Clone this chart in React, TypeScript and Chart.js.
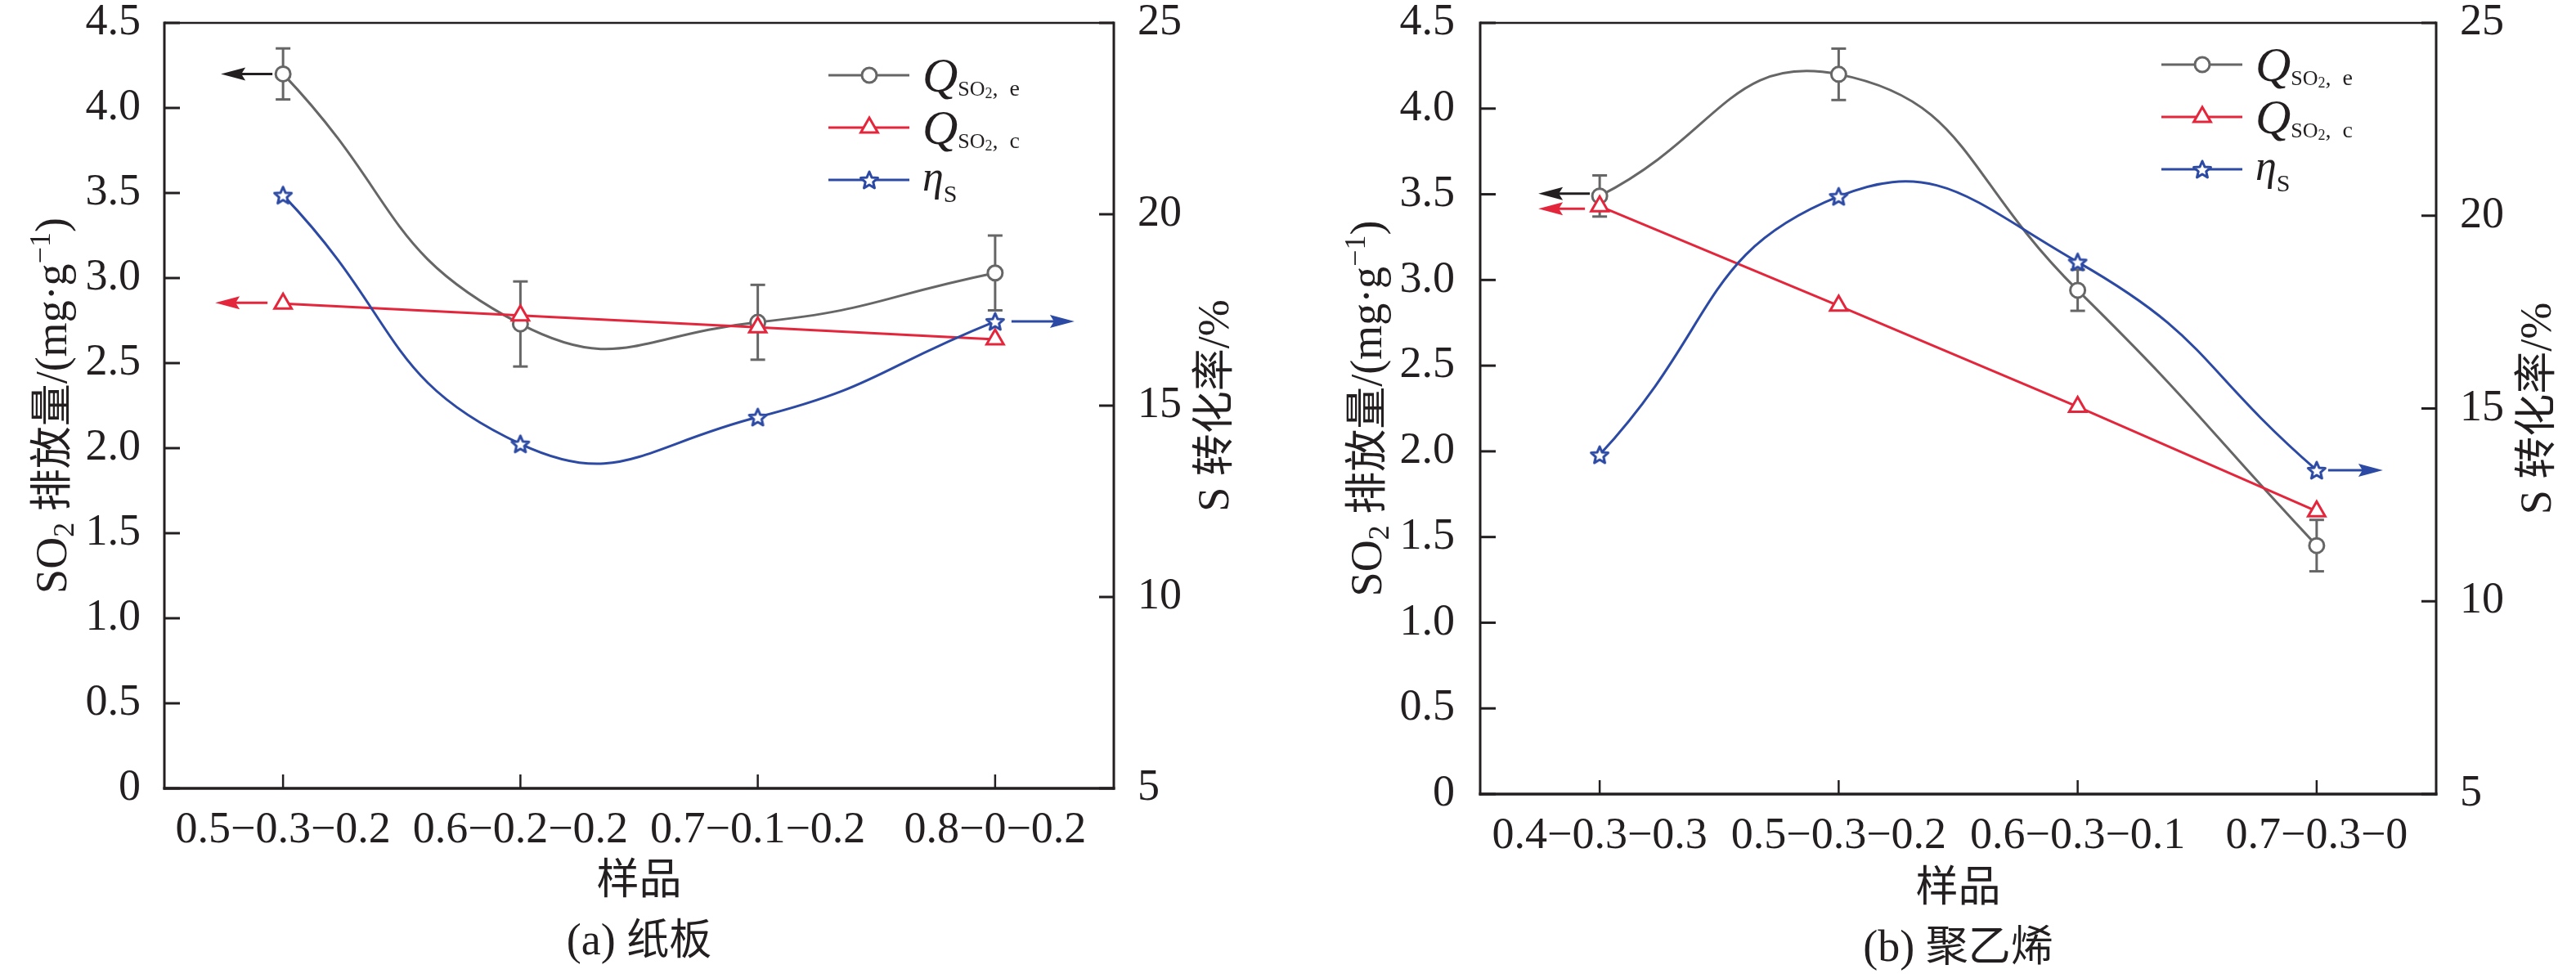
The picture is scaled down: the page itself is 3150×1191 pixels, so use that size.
import React, { useEffect, useRef } from 'react';
import { Chart, registerables } from 'chart.js';

Chart.register(...registerables);

const LATIN = '"Liberation Serif", "Times New Roman", "DejaVu Serif", serif';
const CJK = '"Noto Sans CJK SC", "Noto Sans CJK JP", sans-serif';
const TEXT = '#231f20';
const GRAY = '#666666';
const RED = '#e3263b';
const BLUE = '#2c4aa3';

// ---------- data ----------
const categoriesA = ['0.5−0.3−0.2', '0.6−0.2−0.2', '0.7−0.1−0.2', '0.8−0−0.2'];
const qeA = [4.2, 2.73, 2.74, 3.03];
const qeErrA = [0.15, 0.25, 0.22, 0.22];
const qcA = [2.85, 2.78, 2.71, 2.64];
const etaA = [20.5, 14.0, 14.7, 17.2];

const categoriesB = ['0.4−0.3−0.3', '0.5−0.3−0.2', '0.6−0.3−0.1', '0.7−0.3−0'];
const qeB = [3.49, 4.2, 2.94, 1.45];
const qeErrB = [0.12, 0.15, 0.12, 0.15];
const qcB = [3.43, 2.85, 2.26, 1.65];
const etaB = [13.8, 20.5, 18.8, 13.4];

const leftTicks = { min: 0, max: 4.5, step: 0.5 };
const rightTicks = { min: 5, max: 25, step: 5 };

const captionA = ['(a) ', '纸板'];
const captionB = ['(b) ', '聚乙烯'];

// ---------- layout ----------
const W = 1575;
const H = 1191;

type Arrow = { series: number; index: number; dir: number; tail: number; tip: number; dy: number; color: string };
type Panel = {
  categories: string[];
  qe: number[];
  qeErr: number[];
  qc: number[];
  eta: number[];
  caption: string[];
  left: number;
  right: number;
  top: number;
  bottom: number;
  leftTickPad: number;
  legendX: number;
  legendY: number;
  arrows: Arrow[];
  leftTitleX: number;
  rightTitleX: number;
  xTitleY: number;
  captionY: number;
};

const panelA: Panel = {
  categories: categoriesA,
  qe: qeA,
  qeErr: qeErrA,
  qc: qcA,
  eta: etaA,
  caption: captionA,
  left: 201,
  right: 1362,
  top: 28,
  bottom: 964,
  leftTickPad: 21,
  legendX: 1013,
  legendY: 92,
  arrows: [
    { series: 0, index: 0, dir: -1, tail: 13, tip: 76, dy: 0, color: TEXT },
    { series: 1, index: 0, dir: -1, tail: 19, tip: 83, dy: -1, color: RED },
    { series: 2, index: 3, dir: 1, tail: 20, tip: 97, dy: 0, color: BLUE },
  ],
  leftTitleX: 62,
  rightTitleX: 1483,
  xTitleY: 1073,
  captionY: 1148,
};

const panelB: Panel = {
  categories: categoriesB,
  qe: qeB,
  qeErr: qeErrB,
  qc: qcB,
  eta: etaB,
  caption: captionB,
  left: 235,
  right: 1404,
  top: 28,
  bottom: 971,
  leftTickPad: 23,
  legendX: 1068,
  legendY: 79,
  arrows: [
    { series: 0, index: 0, dir: -1, tail: 12, tip: 75, dy: -3, color: TEXT },
    { series: 1, index: 0, dir: -1, tail: 18, tip: 75, dy: 3, color: RED },
    { series: 2, index: 3, dir: 1, tail: 14, tip: 81, dy: 0, color: BLUE },
  ],
  leftTitleX: 95,
  rightTitleX: 1525,
  xTitleY: 1082,
  captionY: 1156,
};

const fL = (size: number, italic = false) => `${italic ? 'italic ' : ''}${size}px ${LATIN}`;
const fC = (size: number) => `${size}px ${CJK}`;

type Seg = { t: string; f: string; dy?: number };

function drawSegs(ctx: CanvasRenderingContext2D, segs: Seg[], x: number, y: number, align: 'center' | 'left') {
  const widths = segs.map((s) => {
    ctx.font = s.f;
    return ctx.measureText(s.t).width;
  });
  const total = widths.reduce((a, b) => a + b, 0);
  let cx = align === 'center' ? x - total / 2 : x;
  ctx.textAlign = 'left';
  ctx.textBaseline = 'alphabetic';
  segs.forEach((s, i) => {
    ctx.font = s.f;
    ctx.fillText(s.t, cx, y + (s.dy || 0));
    cx += widths[i];
  });
}

function makeStar(color: string) {
  const c = document.createElement('canvas');
  const s = 32;
  c.width = s;
  c.height = s;
  const g = c.getContext('2d')!;
  g.beginPath();
  for (let k = 0; k < 10; k++) {
    const r = k % 2 === 0 ? 11 : 5;
    const a = -Math.PI / 2 + (k * Math.PI) / 5;
    const x = s / 2 + r * Math.cos(a);
    const y = s / 2 + 1 + r * Math.sin(a);
    if (k === 0) g.moveTo(x, y);
    else g.lineTo(x, y);
  }
  g.closePath();
  g.fillStyle = '#fff';
  g.fill();
  g.lineWidth = 3;
  g.lineJoin = 'round';
  g.strokeStyle = color;
  g.stroke();
  return c;
}

function line(ctx: CanvasRenderingContext2D, x0: number, y0: number, x1: number, y1: number, w: number, color: string) {
  ctx.save();
  ctx.beginPath();
  ctx.lineWidth = w;
  ctx.strokeStyle = color;
  ctx.lineCap = 'butt';
  ctx.moveTo(x0, y0);
  ctx.lineTo(x1, y1);
  ctx.stroke();
  ctx.restore();
}

function makeDecor(p: Panel, star: HTMLCanvasElement) {
  return {
    id: 'decor',
    beforeDatasetsDraw(chart: any) {
      const ctx: CanvasRenderingContext2D = chart.ctx;
      const ys = chart.scales.y;
      const meta = chart.getDatasetMeta(0);
      p.qe.forEach((v, i) => {
        const x = meta.data[i].x;
        const yt = ys.getPixelForValue(v + p.qeErr[i]);
        const yb = ys.getPixelForValue(v - p.qeErr[i]);
        line(ctx, x, yt, x, yb, 3, GRAY);
        line(ctx, x - 9, yt, x + 9, yt, 3, GRAY);
        line(ctx, x - 9, yb, x + 9, yb, 3, GRAY);
      });
    },
    afterDatasetsDraw(chart: any) {
      const ctx: CanvasRenderingContext2D = chart.ctx;
      p.arrows.forEach((a) => {
        const el = chart.getDatasetMeta(a.series).data[a.index];
        const y = el.y + a.dy;
        const x0 = el.x + a.dir * a.tail;
        const x1 = el.x + a.dir * a.tip;
        line(ctx, x0, y, x1 - a.dir * 24, y, 3, a.color);
        ctx.save();
        ctx.beginPath();
        ctx.fillStyle = a.color;
        ctx.moveTo(x1, y);
        ctx.lineTo(x1 - a.dir * 30, y - 8);
        ctx.lineTo(x1 - a.dir * 25, y);
        ctx.lineTo(x1 - a.dir * 30, y + 8);
        ctx.closePath();
        ctx.fill();
        ctx.restore();
      });
    },
    afterDraw(chart: any) {
      const ctx: CanvasRenderingContext2D = chart.ctx;
      const { left, right, top, bottom } = chart.chartArea;
      // frame
      line(ctx, left, top - 1.5, left, bottom + 1.5, 3, TEXT);
      line(ctx, right, top - 1.5, right, bottom + 1.5, 3, TEXT);
      line(ctx, left, top, right, top, 2.5, TEXT);
      line(ctx, left - 1.5, bottom, right + 1.5, bottom, 3.5, TEXT);
      // inward ticks
      const ys = chart.scales.y;
      ys.ticks.forEach((t: any) => {
        const py = ys.getPixelForValue(t.value);
        line(ctx, left, py, left + 19, py, 3, TEXT);
      });
      const y1 = chart.scales.y1;
      y1.ticks.forEach((t: any) => {
        const py = y1.getPixelForValue(t.value);
        line(ctx, right - 18, py, right, py, 3, TEXT);
      });
      const xs = chart.scales.x;
      xs.ticks.forEach((_t: any, i: number) => {
        const px = xs.getPixelForTick(i);
        line(ctx, px, bottom, px, bottom - 17, 2.5, TEXT);
      });

      ctx.save();
      ctx.fillStyle = TEXT;
      // left title
      const cy = (top + bottom) / 2;
      ctx.save();
      ctx.translate(p.leftTitleX, cy);
      ctx.rotate(-Math.PI / 2);
      drawSegs(
        ctx,
        [
          { t: 'SO', f: fL(54) },
          { t: '2', f: fL(36), dy: 9 },
          { t: ' ', f: fL(54) },
          { t: '排放量', f: fC(52) },
          { t: '/(mg·g', f: fL(54) },
          { t: '−1', f: fL(36), dy: -20 },
          { t: ')', f: fL(54) },
        ],
        0,
        19,
        'center'
      );
      ctx.restore();
      // right title
      ctx.save();
      ctx.translate(p.rightTitleX, cy);
      ctx.rotate(-Math.PI / 2);
      drawSegs(
        ctx,
        [
          { t: 'S ', f: fL(54) },
          { t: '转化率', f: fC(52) },
          { t: '/%', f: fL(54) },
        ],
        0,
        19,
        'center'
      );
      ctx.restore();
      // x title and caption
      const cx = (left + right) / 2;
      drawSegs(ctx, [{ t: '样品', f: fC(52) }], cx, p.xTitleY + 20, 'center');
      drawSegs(
        ctx,
        [
          { t: p.caption[0], f: fL(54) },
          { t: p.caption[1], f: fC(52) },
        ],
        cx,
        p.captionY + 19,
        'center'
      );

      // legend
      const lx = p.legendX;
      const tx = lx + 115;
      const rows = [p.legendY, p.legendY + 64, p.legendY + 128];
      // row 1
      line(ctx, lx, rows[0], lx + 99, rows[0], 3, GRAY);
      ctx.beginPath();
      ctx.arc(lx + 50, rows[0], 9, 0, Math.PI * 2);
      ctx.fillStyle = '#fff';
      ctx.fill();
      ctx.lineWidth = 3;
      ctx.strokeStyle = GRAY;
      ctx.stroke();
      // row 2
      line(ctx, lx, rows[1], lx + 99, rows[1], 3, RED);
      {
        const r = 12;
        const x = lx + 50;
        const y = rows[1];
        ctx.beginPath();
        let rad = 0;
        ctx.moveTo(x + Math.sin(rad) * r, y - Math.cos(rad) * r);
        rad += (2 * Math.PI) / 3;
        ctx.lineTo(x + Math.sin(rad) * r, y - Math.cos(rad) * r);
        rad += (2 * Math.PI) / 3;
        ctx.lineTo(x + Math.sin(rad) * r, y - Math.cos(rad) * r);
        ctx.closePath();
        ctx.fillStyle = '#fff';
        ctx.fill();
        ctx.lineWidth = 3;
        ctx.strokeStyle = RED;
        ctx.stroke();
      }
      // row 3
      line(ctx, lx, rows[2], lx + 99, rows[2], 3, BLUE);
      ctx.drawImage(star, lx + 50 - star.width / 2, rows[2] - star.height / 2);

      ctx.fillStyle = TEXT;
      drawSegs(
        ctx,
        [
          { t: 'Q', f: fL(60, true), dy: 20 },
          { t: 'SO', f: fL(26), dy: 25 },
          { t: '2', f: fL(18), dy: 28 },
          { t: ',  e', f: fL(28), dy: 25 },
        ],
        tx,
        rows[0],
        'left'
      );
      drawSegs(
        ctx,
        [
          { t: 'Q', f: fL(60, true), dy: 20 },
          { t: 'SO', f: fL(26), dy: 25 },
          { t: '2', f: fL(18), dy: 28 },
          { t: ',  c', f: fL(28), dy: 25 },
        ],
        tx,
        rows[1],
        'left'
      );
      drawSegs(
        ctx,
        [
          { t: 'η', f: fL(52, true), dy: 13 },
          { t: 'S', f: fL(30), dy: 27 },
        ],
        tx,
        rows[2],
        'left'
      );
      ctx.restore();
    },
  };
}

function buildChart(canvas: HTMLCanvasElement, p: Panel) {
  const star = makeStar(BLUE);
  const tickFont = { family: LATIN, size: 54 };
  const cfg: any = {
    type: 'line',
    data: {
      labels: p.categories,
      datasets: [
        {
          label: 'Q_SO2,e',
          data: p.qe,
          yAxisID: 'y',
          borderColor: GRAY,
          borderWidth: 3,
          tension: 0.5,
          pointStyle: 'circle',
          pointRadius: 9,
          pointBorderWidth: 3,
          pointBackgroundColor: '#fff',
          pointBorderColor: GRAY,
          order: 3,
        },
        {
          label: 'Q_SO2,c',
          data: p.qc,
          yAxisID: 'y',
          borderColor: RED,
          borderWidth: 3,
          tension: 0,
          pointStyle: 'triangle',
          pointRadius: 12,
          pointBorderWidth: 3,
          pointBackgroundColor: '#fff',
          pointBorderColor: RED,
          order: 2,
        },
        {
          label: 'eta_S',
          data: p.eta,
          yAxisID: 'y1',
          borderColor: BLUE,
          borderWidth: 3,
          tension: 0.5,
          pointStyle: star,
          pointRadius: 12,
          order: 1,
        },
      ],
    },
    options: {
      responsive: false,
      animation: false,
      events: [],
      layout: { padding: { top: p.top, left: 0, right: 0, bottom: 0 } },
      plugins: { legend: { display: false }, tooltip: { enabled: false }, title: { display: false } },
      scales: {
        x: {
          type: 'category',
          offset: true,
          grid: { display: false },
          border: { display: false },
          ticks: { font: tickFont, color: TEXT, padding: 11, maxRotation: 0, minRotation: 0, autoSkip: false },
          afterFit: (s: any) => {
            s.height = H - p.bottom;
            s.paddingLeft = 0;
            s.paddingRight = 0;
          },
        },
        y: {
          position: 'left',
          min: leftTicks.min,
          max: leftTicks.max,
          grid: { display: false },
          border: { display: false },
          ticks: {
            stepSize: leftTicks.step,
            font: tickFont,
            color: TEXT,
            padding: p.leftTickPad,
            callback: (v: number) => (Math.abs(v) < 1e-9 ? '0' : Number(v).toFixed(1)),
          },
          afterFit: (s: any) => {
            s.width = p.left;
            s.paddingTop = 0;
            s.paddingBottom = 0;
          },
        },
        y1: {
          position: 'right',
          min: rightTicks.min,
          max: rightTicks.max,
          grid: { display: false },
          border: { display: false },
          ticks: { stepSize: rightTicks.step, font: tickFont, color: TEXT, padding: 21 },
          afterFit: (s: any) => {
            s.width = W - p.right;
            s.paddingTop = 0;
            s.paddingBottom = 0;
          },
        },
      },
    },
    plugins: [makeDecor(p, star)],
  };
  return new Chart(canvas, cfg);
}

function PanelChart({ panel, x }: { panel: Panel; x: number }) {
  const ref = useRef<HTMLCanvasElement | null>(null);
  useEffect(() => {
    if (!ref.current) return;
    const chart = buildChart(ref.current, panel);
    return () => chart.destroy();
  }, [panel]);
  return (
    <canvas
      ref={ref}
      width={W}
      height={H}
      style={{ position: 'absolute', left: x, top: 0, width: W, height: H, display: 'block' }}
    />
  );
}

export default function App() {
  return (
    <div style={{ position: 'absolute', left: 0, top: 0, width: 3150, height: 1191, background: '#fff', overflow: 'hidden' }}>
      <PanelChart panel={panelA} x={0} />
      <PanelChart panel={panelB} x={1575} />
    </div>
  );
}
